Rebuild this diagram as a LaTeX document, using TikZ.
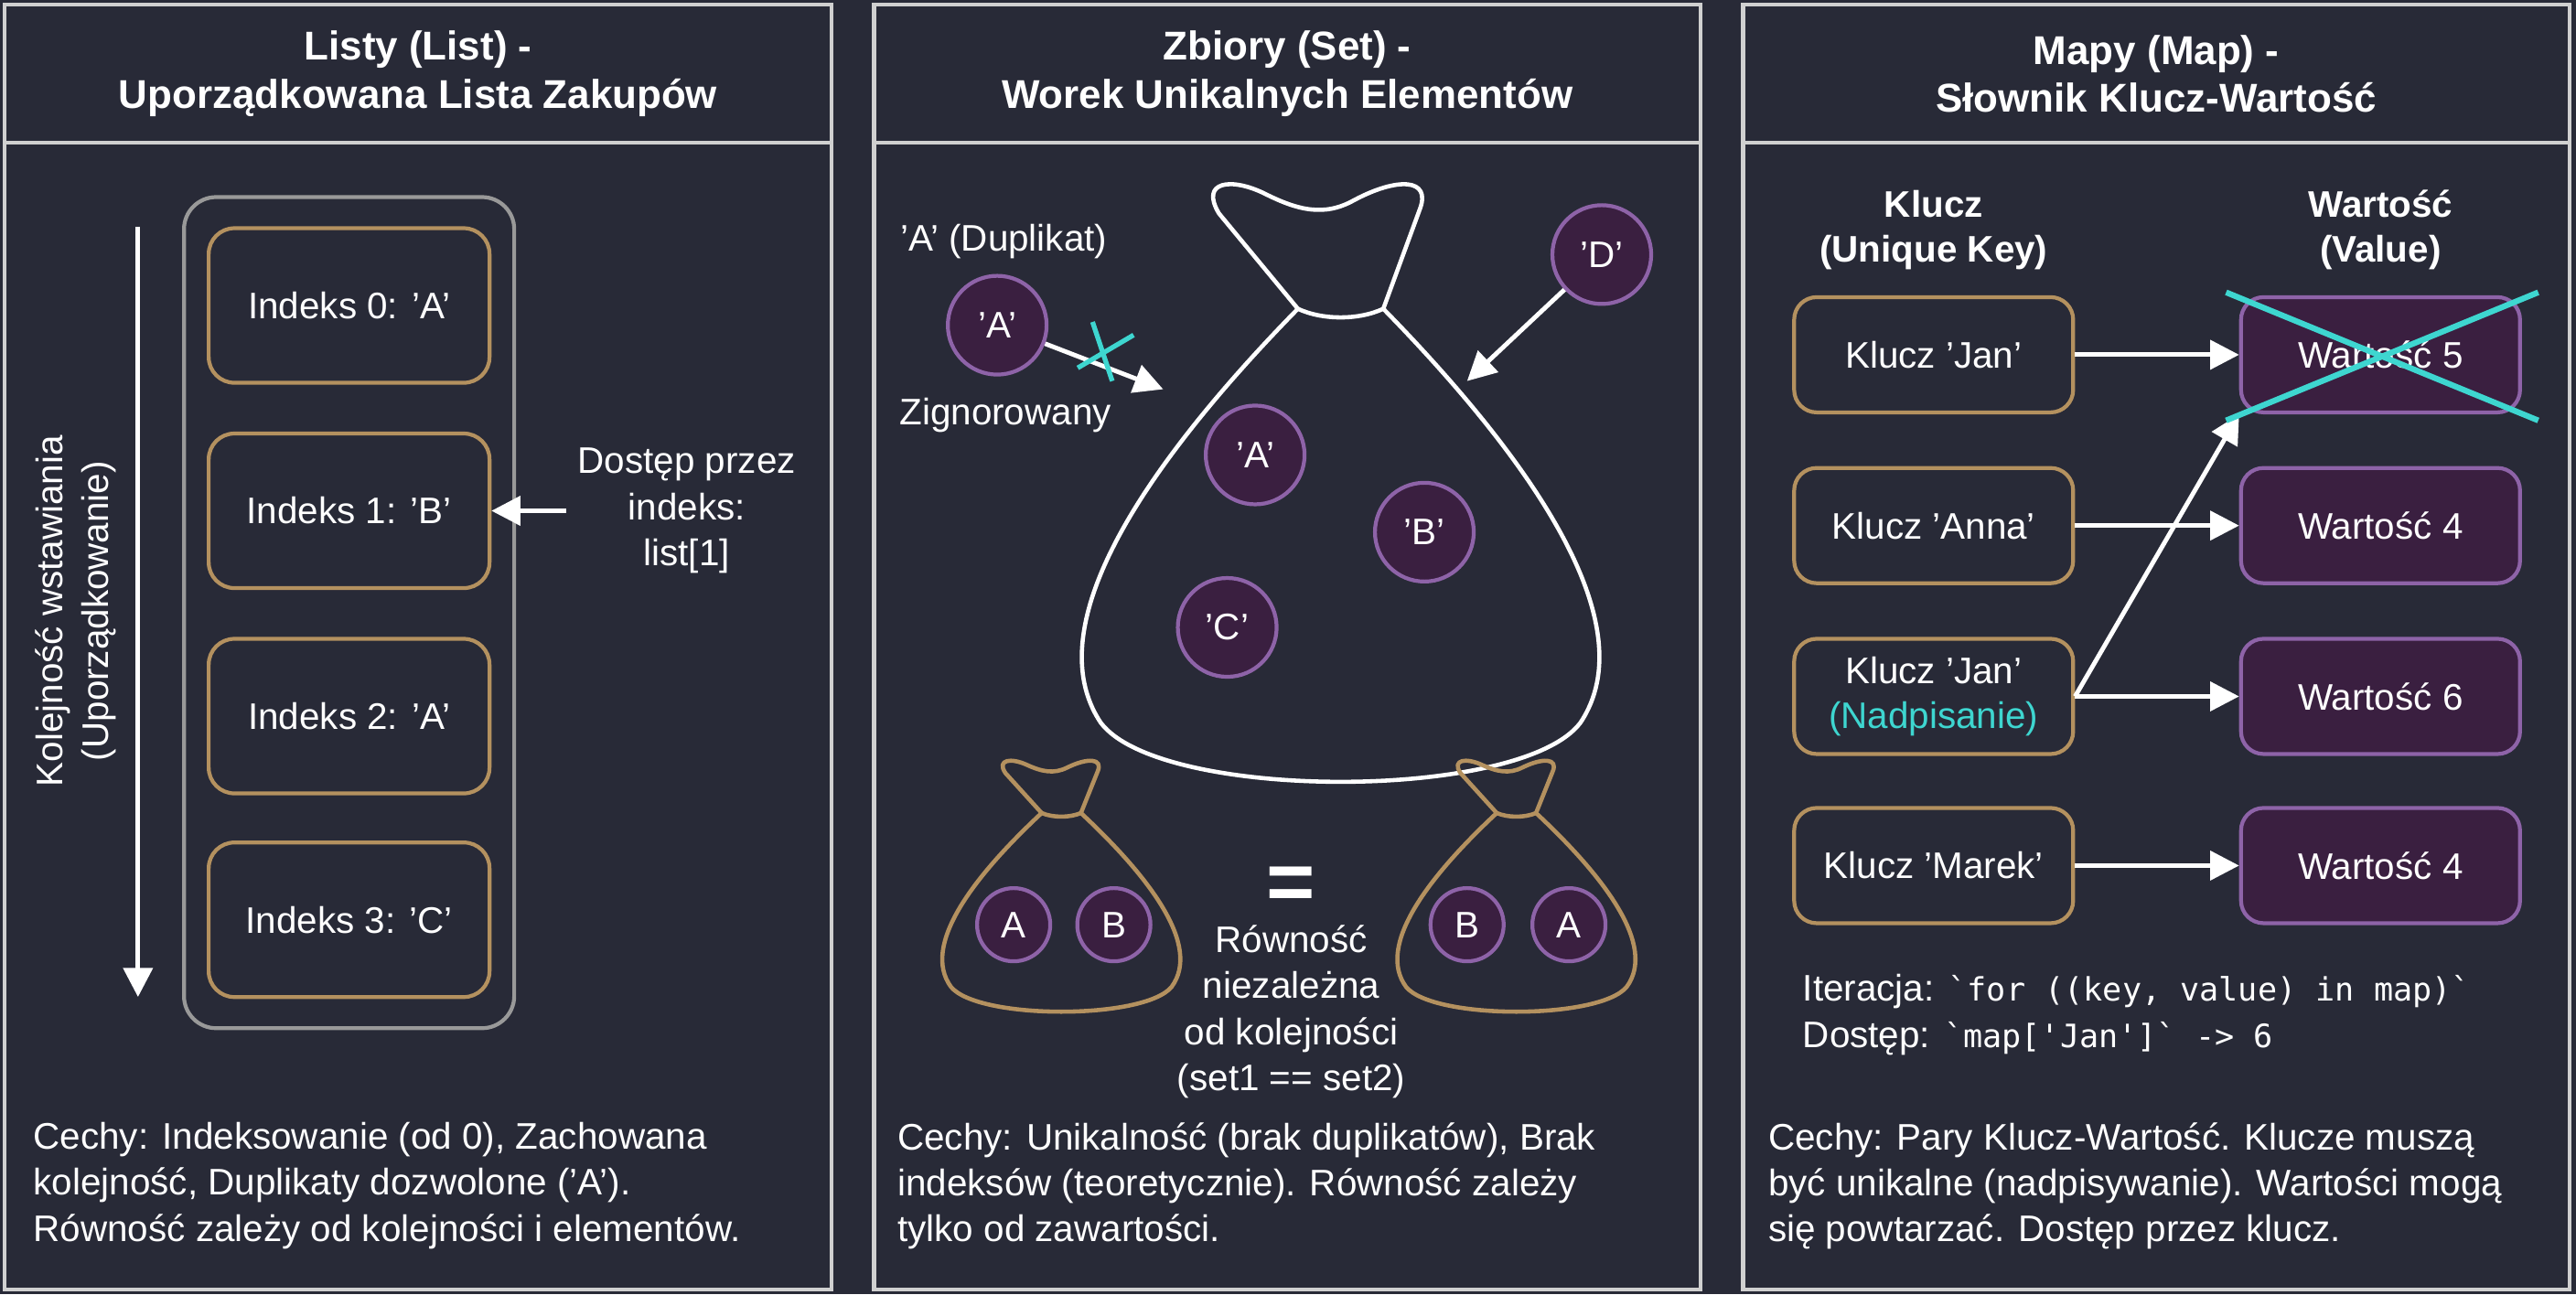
\documentclass[tikz,border=0pt]{standalone}
\usepackage{fontspec}
\setmainfont{Liberation Sans}
\setmonofont{DejaVu Sans Mono}
\usetikzlibrary{arrows.meta,positioning}
\definecolor{bgdark}{HTML}{282A37}
\definecolor{goldline}{HTML}{B4915F}
\definecolor{violetline}{HTML}{8E63A8}
\definecolor{violetfill}{HTML}{3A1F40}
\definecolor{cyanmark}{HTML}{3ED6D0}
\definecolor{panelline}{HTML}{D0D0D0}
\tikzset{
  panel/.style={draw=panelline, line width=1.2pt},
  title/.style={text=white, font=\bfseries\fontsize{12.5}{15}\selectfont, align=center},
  body/.style={text=white, font=\fontsize{11.5}{14.3}\selectfont, align=left, anchor=north west, inner sep=0pt},
  label/.style={text=white, font=\fontsize{11.5}{14.3}\selectfont, align=center},
  indexbox/.style={draw=goldline, line width=1.2pt, rounded corners=8pt, minimum width=3.07cm, minimum height=1.69cm, text=white, font=\fontsize{11.5}{14}\selectfont},
  keybox/.style={draw=goldline, line width=1.2pt, rounded corners=7pt, minimum width=3.05cm, minimum height=1.26cm, text=white, font=\fontsize{11.5}{14}\selectfont, align=center},
  valbox/.style={draw=violetline, fill=violetfill, line width=1.2pt, rounded corners=7pt, minimum width=3.05cm, minimum height=1.26cm, text=white, font=\fontsize{11.5}{14}\selectfont},
  elem/.style={circle, draw=violetline, fill=violetfill, line width=1.2pt, minimum size=1.08cm, inner sep=0pt, text=white, font=\fontsize{11.5}{14}\selectfont},
  smallelem/.style={elem, minimum size=0.8cm},
  arr/.style={white, line width=1.4pt, -{Triangle[width=9pt,length=9pt]}},
  pics/sack/.style={code={
    \draw[#1, line width=1.3pt, line join=round]
      (-26,0) -- (-74,-58) .. controls (-86,-78) and (-66,-80) .. (-46,-70)
      .. controls (-26,-60) and (-10,-56) .. (8,-66)
      .. controls (34,-80) and (56,-80) .. (48,-60) -- (26,0);
    \draw[#1, line width=1.3pt] (-26,0) .. controls (-11,7) and (11,7) .. (26,0);
    \draw[#1, line width=1.3pt]
      (-26,0) .. controls (-116,92) and (-186,192) .. (-146,252)
      .. controls (-110,300) and (110,300) .. (146,252)
      .. controls (186,192) and (116,92) .. (26,0);
  }}
}
\begin{document}
\begin{tikzpicture}[x=0.01796cm, y=-0.01796cm]
  \fill[bgdark] (0,0) rectangle (1568,788);
  \useasboundingbox (0,0) rectangle (1568,788);

  % Panels
  \foreach \px in {3,532,1061}{
    \draw[panel] (\px,3) rectangle ++(503,782);
    \draw[panel] (\px,87) -- ++(503,0);
  }
  \node[title] (t1) at (254.5,45) {Listy (List) -\\Uporządkowana Lista Zakupów};
  \node[title] (t2) at (783.5,45) {Zbiory (Set) -\\Worek Unikalnych Elementów};
  \node[title] (t3) at (1312.5,45) {Mapy (Map) -\\Słownik Klucz-Wartość};

  % Lists
  \draw[gray!80, line width=1.2pt, rounded corners=10pt] (112,120) rectangle (313,626);
  \node[indexbox] (i0) at (212.5,186) {Indeks 0: 'A'};
  \node[indexbox] (i1) at (212.5,311) {Indeks 1: 'B'};
  \node[indexbox] (i2) at (212.5,436) {Indeks 2: 'A'};
  \node[indexbox] (i3) at (212.5,560) {Indeks 3: 'C'};
  \coordinate (ordtop) at (84,138);
  \coordinate (ordbot) at (84,607);
  \draw[arr] (ordtop) -- (ordbot);
  \node[label, rotate=90] (ord) at (46,372) {Kolejność wstawiania\\(Uporządkowanie)};
  \node[label] (acc) at (418,311) {Dostęp przez\\indeks:\\list[1]};
  \draw[arr] (acc.west) -- (i1.east);
  \node[body] (c1) at (20,683) {Cechy: Indeksowanie (od 0), Zachowana\\kolejność, Duplikaty dozwolone ('A').\\Równość zależy od kolejności i elementów.};

  % Sets
  \pic at (816,188) {sack=white};
  \node[elem] (sa) at (764,277) {'A'};
  \node[elem] (sb) at (867,324) {'B'};
  \node[elem] (sc) at (747,382) {'C'};
  \node[elem] (sd) at (975,155) {'D'};
  \node[elem] (dup) at (607,198) {'A'};
  \node[label] (duptxt) at (611,147) {'A' (Duplikat)};
  \node[label] (ign) at (612,253) {Zignorowany};
  \coordinate (bagleft) at (708,237);
  \coordinate (bagright) at (893,232);
  \draw[arr] (dup) -- (bagleft);
  \draw[arr] (sd) -- (bagright);
  \draw[cyanmark, line width=1.5pt] (656,224) -- (690,204) (665,196) -- (677,232);
  \pic[xscale=0.46, yscale=0.42] at (646,495) {sack=goldline};
  \pic[xscale=0.46, yscale=0.42] at (923,495) {sack=goldline};
  \node[smallelem] (la) at (617,563) {A};
  \node[smallelem] (lb) at (678,563) {B};
  \node[smallelem] (rb) at (893,563) {B};
  \node[smallelem] (ra) at (955,563) {A};
  \node[text=white, font=\bfseries\fontsize{26}{26}\selectfont] (eq) at (786,541) {=};
  \node[label] (eqtxt) at (786,616) {Równość\\niezależna\\od kolejności\\(set1 == set2)};
  \node[body] (c2) at (546,683) {Cechy: Unikalność (brak duplikatów), Brak\\indeksów (teoretycznie). Równość zależy\\tylko od zawartości.};

  % Maps
  \node[title, font=\bfseries\fontsize{11.5}{14}\selectfont] (kh) at (1177,140) {Klucz\\(Unique Key)};
  \node[title, font=\bfseries\fontsize{11.5}{14}\selectfont] (vh) at (1449,140) {Wartość\\(Value)};
  \node[keybox] (k1) at (1177,216) {Klucz 'Jan'};
  \node[keybox] (k2) at (1177,320) {Klucz 'Anna'};
  \node[keybox] (k3) at (1177,424) {Klucz 'Jan'\\\textcolor{cyanmark}{(Nadpisanie)}};
  \node[keybox] (k4) at (1177,527) {Klucz 'Marek'};
  \node[valbox] (v1) at (1449,216) {Wartość 5};
  \node[valbox] (v2) at (1449,320) {Wartość 4};
  \node[valbox] (v3) at (1449,424) {Wartość 6};
  \node[valbox] (v4) at (1449,527) {Wartość 4};
  \foreach \i in {1,...,4}{
    \draw[arr] (k\i) -- (v\i);
  }
  \draw[arr] (k3.east) -- (v1.south west);
  \draw[cyanmark, line width=1.8pt] (1355,178) -- (1545,256) (1355,256) -- (1545,178);
  \node[body] (code) at (1097,593) {Iteracja: {\ttfamily\fontsize{10}{14.3}\selectfont `for ((key, value) in map)`}\\Dostęp: {\ttfamily\fontsize{10}{14.3}\selectfont `map['Jan']` -> 6}};
  \node[body] (c3) at (1076,683) {Cechy: Pary Klucz-Wartość. Klucze muszą\\być unikalne (nadpisywanie). Wartości mogą\\się powtarzać. Dostęp przez klucz.};
\end{tikzpicture}
\end{document}
